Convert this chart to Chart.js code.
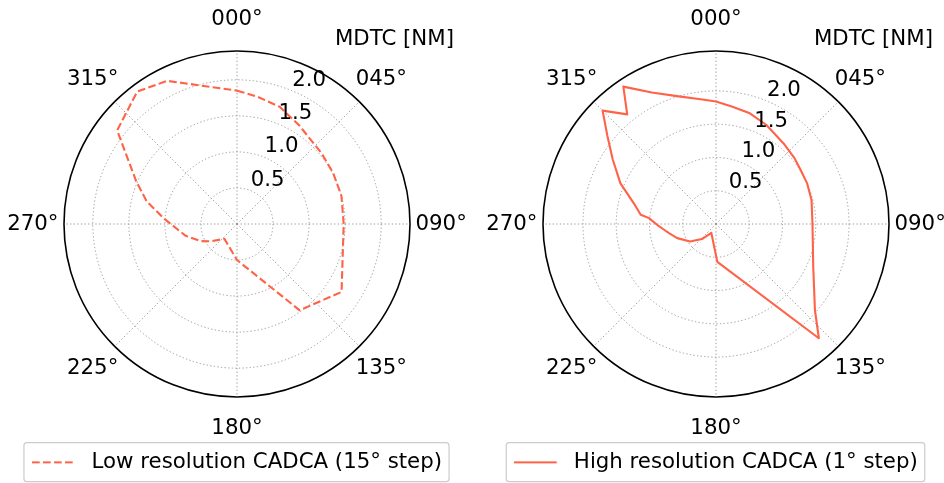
<!DOCTYPE html>
<html>
<head>
<meta charset="utf-8">
<script src="https://cdn.jsdelivr.net/npm/chart.js@4/dist/chart.umd.min.js"></script>
<style>
html,body{margin:0;padding:0;background:#fff;}
#wrap{position:relative;width:944px;height:483px;overflow:hidden;background:#fff;}
canvas{position:absolute;top:0;}
#c1{left:0;}
#c2{left:487px;}
</style>
</head>
<body>
<div id="wrap">
<canvas id="c1" width="474" height="483"></canvas>
<canvas id="c2" width="458" height="483"></canvas>
</div>
<script>
// ---- data ----
const angleTickDeg = [0, 45, 90, 135, 180, 225, 270, 315];
const angleTickLabels = ['000°', '045°', '090°', '135°', '180°', '225°', '270°', '315°'];
const radialTickValues = [0.5, 1.0, 1.5, 2.0];
const radialTickLabels = ['0.5', '1.0', '1.5', '2.0'];
const radialAxisTitle = 'MDTC [NM]';

const lowLabel = 'Low resolution CADCA (15° step)';
const lowMax = 2.4;
const lowAngles = [0, 9, 20, 32, 50, 62, 75, 90, 123, 144, 180, 220, 237, 245, 257, 274, 284, 293, 308, 323, 334];
const lowMdtc   = [1.85, 1.79, 1.73, 1.62, 1.53, 1.51, 1.50, 1.48, 1.73, 1.48, 0.50, 0.27, 0.44, 0.56, 0.73, 1.01, 1.29, 1.52, 2.11, 2.30, 2.21];

const highLabel = 'High resolution CADCA (1° step)';
const highMax = 2.6;
const highAngles = [0, 8, 17, 27, 40, 50, 57, 66, 76, 90, 114, 131, 138, 178, 208, 215, 223, 236, 250, 259, 264, 269, 272, 275, 277, 284, 293, 302, 309, 315, 321, 326, 334, 343, 353];
const highMdtc   = [1.84, 1.78, 1.74, 1.67, 1.58, 1.54, 1.51, 1.50, 1.48, 1.45, 1.60, 1.97, 2.31, 0.57, 0.15, 0.20, 0.31, 0.47, 0.62, 0.72, 0.79, 0.88, 0.94, 1.01, 1.14, 1.27, 1.56, 1.83, 2.10, 2.41, 2.12, 2.49, 2.20, 2.01, 1.89];

// ---- styling ----
const FS = 21.3;
const FAMILY = '"DejaVu Sans", "Liberation Sans", sans-serif';
const LINE = '#ff6347';
const GRID = '#9a9a9a';
Chart.defaults.font.family = FAMILY;
Chart.defaults.font.size = FS;
Chart.defaults.color = '#000';

const degrees = Array.from({length: 360}, (_, i) => i);

function toSeries(angles, vals) {
  const arr = new Array(360).fill(null);
  angles.forEach((a, i) => { arr[a] = vals[i]; });
  return arr;
}

function legendSymbol(dashed) {
  const c = document.createElement('canvas');
  c.width = 49; c.height = 6;
  const g = c.getContext('2d');
  g.strokeStyle = LINE;
  g.lineWidth = 2.1;
  g.setLineDash(dashed ? [7.7, 3.3] : []);
  g.beginPath();
  g.moveTo(0, 3); g.lineTo(42.6, 3);
  g.stroke();
  return c;
}

const polarText = {
  id: 'polarText',
  afterDraw(chart) {
    const s = chart.scales.r;
    const ctx = chart.ctx;
    ctx.save();
    ctx.fillStyle = '#000';
    ctx.font = FS + 'px ' + FAMILY;
    ctx.textAlign = 'center';
    ctx.textBaseline = 'middle';
    angleTickDeg.forEach((d, k) => {
      const p = s.getPointPosition(d, s.drawingArea * 1.18);
      ctx.fillText(angleTickLabels[k], p.x, p.y);
    });
    ctx.textAlign = 'left';
    ctx.textBaseline = 'bottom';
    radialTickValues.forEach((v, k) => {
      const p = s.getPointPosition(0, s.getDistanceFromCenterForValue(v), 22.5 * Math.PI / 180);
      ctx.fillText(radialTickLabels[k], p.x, p.y);
    });
    ctx.textAlign = 'center';
    ctx.textBaseline = 'middle';
    ctx.fillText(radialAxisTitle, s.xCenter + s.drawingArea * 0.91, s.yCenter - s.drawingArea * 1.068);
    ctx.restore();
  }
};

const legendFrame = {
  id: 'legendFrame',
  afterDraw(chart) {
    const lg = chart.legend;
    if (!lg || !lg.legendHitBoxes || !lg.legendHitBoxes.length) return;
    const hb = lg.legendHitBoxes[0];
    const ctx = chart.ctx;
    ctx.save();
    ctx.strokeStyle = '#cccccc';
    ctx.lineWidth = 1.2;
    ctx.beginPath();
    const x = hb.left - 8, y = hb.top - 9, w = hb.width + 15, h = 39;
    if (ctx.roundRect) ctx.roundRect(x, y, w, h, 3); else ctx.rect(x, y, w, h);
    ctx.stroke();
    ctx.restore();
  }
};

function makeChart(id, name, angles, vals, rMax, dashed) {
  const ringValues = [0, ...radialTickValues, rMax];
  const isOuter = v => Math.abs(v - rMax) < 1e-9;
  return new Chart(document.getElementById(id), {
    type: 'radar',
    data: {
      labels: degrees,
      datasets: [{
        label: name,
        data: toSeries(angles, vals),
        borderColor: LINE,
        backgroundColor: LINE,
        borderWidth: 2.1,
        borderDash: dashed ? [7.7, 3.3] : [],
        borderJoinStyle: 'round',
        fill: false,
        pointRadius: 0,
        pointHoverRadius: 0,
        pointHitRadius: 0,
        spanGaps: true,
        tension: 0
      }]
    },
    options: {
      responsive: false,
      animation: false,
      events: [],
      layout: { padding: { left: 0, right: 0, top: 51, bottom: 0 } },
      plugins: {
        legend: {
          position: 'bottom',
          labels: {
            usePointStyle: true,
            pointStyle: legendSymbol(dashed),
            pointStyleWidth: 49,
            padding: 54.5,
            color: '#000',
            font: { family: FAMILY, size: FS }
          }
        },
        tooltip: { enabled: false }
      },
      scales: {
        r: {
          min: 0,
          max: rMax,
          afterBuildTicks: sc => { sc.ticks = ringValues.map(v => ({ value: v })); },
          ticks: { display: false },
          pointLabels: { display: false },
          grid: {
            circular: true,
            color: c => (c.tick && isOuter(c.tick.value)) ? '#000' : GRID,
            lineWidth: c => (c.tick && isOuter(c.tick.value)) ? 1.6 : 1
          },
          border: {
            dash: c => (c.tick && isOuter(c.tick.value)) ? [] : [1.3, 2.3]
          },
          angleLines: {
            color: GRID,
            lineWidth: c => (c.index % 45 === 0) ? 1 : 0,
            borderDash: [1.3, 2.3]
          }
        }
      }
    },
    plugins: [polarText, legendFrame]
  });
}

makeChart('c1', lowLabel, lowAngles, lowMdtc, lowMax, true);
makeChart('c2', highLabel, highAngles, highMdtc, highMax, false);
</script>
</body>
</html>
